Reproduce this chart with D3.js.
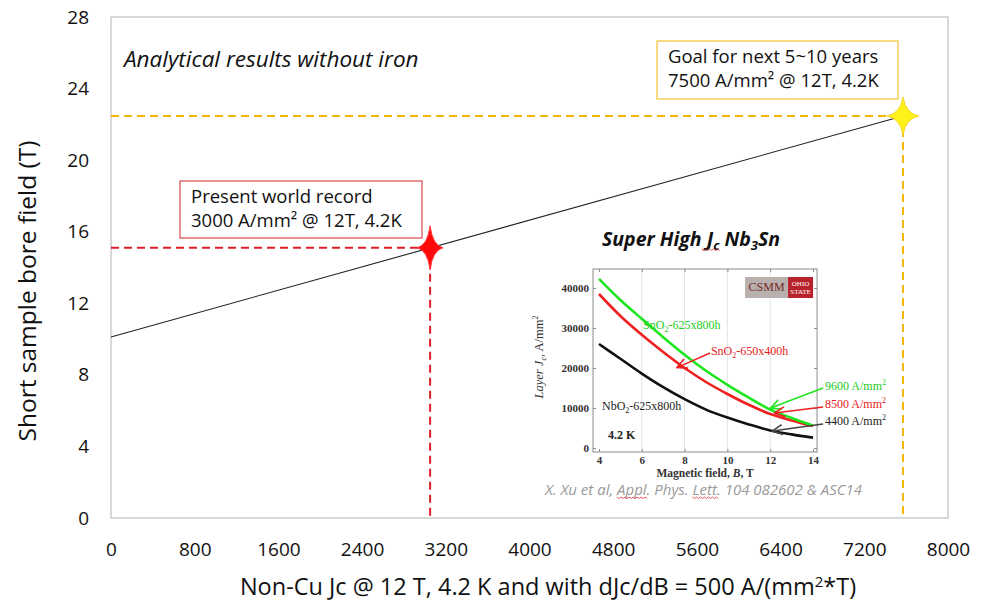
<!DOCTYPE html>
<meta charset="utf-8">
<style>
  body { margin: 0; background: #fff; }
  svg { display: block; font-family: "Open Sans", sans-serif; }
</style>
<body>
<script src="https://d3js.org/d3.v7.min.js"></script>
<div id="chart"></div>
<script>

// ---- main chart data ----
const xTicks = [0, 800, 1600, 2400, 3200, 4000, 4800, 5600, 6400, 7200, 8000];
const yTicks = [0, 4, 8, 12, 16, 20, 24, 28];
// bore field vs non-Cu Jc (straight analytical line)
const lineJc = [0, 7570];
const lineField = [10.12, 22.47];
// the two marked points: present record and goal
const markNames = ["record", "goal"];
const markJc = [3050, 7570];
const markField = [15.1, 22.47];

// ---- inset data (Layer Jc vs B) ----
const insetB = [4, 5, 6, 7, 8, 9, 10, 11, 12, 13, 14];
const jcSnO2_625 = [42300, 37000, 32300, 27700, 23300, 19300, 15800, 12600, 9600, 7500, 5600];
const jcSnO2_650 = [38500, 33000, 28300, 24000, 20000, 16500, 13500, 10800, 8500, 6900, 5500];
const jcNbO2_625 = [26000, 22300, 18600, 15200, 12200, 9600, 7600, 5900, 4400, 3400, 2600];
const insetXTicks = [4, 6, 8, 10, 12, 14];
const insetYTicks = [0, 10000, 20000, 30000, 40000];

const W = 987, H = 603;
const svg = d3.select("#chart").append("svg")
  .attr("width", W).attr("height", H);

const x = d3.scaleLinear().domain([0, 8000]).range([111, 948]);
const y = d3.scaleLinear().domain([0, 28]).range([518, 17]);

// plot frame
svg.append("rect")
  .attr("x", x(0)).attr("y", y(28))
  .attr("width", x(8000) - x(0)).attr("height", y(0) - y(28))
  .attr("fill", "none").attr("stroke", "#bfbfbf").attr("stroke-width", 1.2);

// axes
const xAxis = svg.append("g")
  .attr("transform", `translate(0, ${y(0)})`)
  .call(d3.axisBottom(x).tickValues(xTicks).tickSize(0).tickPadding(25).tickFormat(d3.format("d")));
const yAxis = svg.append("g")
  .attr("transform", `translate(${x(0)}, 0)`)
  .call(d3.axisLeft(y).tickValues(yTicks).tickSize(0).tickPadding(22));
[xAxis, yAxis].forEach(a => {
  a.select(".domain").remove();
  a.selectAll("text").attr("font-family", "Open Sans").attr("font-size", 19).attr("fill", "#111");
});

// axis titles
svg.append("text")
  .attr("transform", "translate(36, 291) rotate(-90)")
  .attr("text-anchor", "middle")
  .attr("font-size", 24.5).attr("fill", "#111")
  .text("Short sample bore field (T)");

const xt = svg.append("text")
  .attr("x", 548).attr("y", 595)
  .attr("text-anchor", "middle")
  .attr("font-size", 23.5).attr("fill", "#111");
xt.append("tspan").text("Non-Cu Jc @ 12 T, 4.2 K and with dJc/dB = 500 A/(mm");
xt.append("tspan").attr("dy", -8).attr("font-size", 15).text("2");
xt.append("tspan").attr("dy", 8).text("*T)");

svg.append("text")
  .attr("x", 124).attr("y", 67)
  .attr("font-size", 22.5).attr("font-style", "italic").attr("fill", "#111")
  .text("Analytical results without iron");

// dashed guide lines
const guideColor = { record: "#dc1f26", goal: "#f2b705" };
markNames.forEach((n, i) => {
  const g = svg.append("g")
    .attr("stroke", guideColor[n]).attr("stroke-width", 2)
    .attr("stroke-dasharray", "8,5").attr("fill", "none");
  g.append("line")
    .attr("x1", x(0)).attr("x2", x(markJc[i]))
    .attr("y1", y(markField[i])).attr("y2", y(markField[i]));
  g.append("line")
    .attr("x1", x(markJc[i])).attr("x2", x(markJc[i]))
    .attr("y1", y(markField[i])).attr("y2", y(0));
});

// analytical line
svg.append("path")
  .datum(d3.zip(lineJc, lineField))
  .attr("d", d3.line().x(d => x(d[0])).y(d => y(d[1])))
  .attr("stroke", "#222").attr("stroke-width", 1.1).attr("fill", "none");

// 4-point stars
function starPath(rx, ry, k) {
  const p = d3.path();
  p.moveTo(0, -ry);
  p.quadraticCurveTo(k, -k, rx, 0);
  p.quadraticCurveTo(k, k, 0, ry);
  p.quadraticCurveTo(-k, k, -rx, 0);
  p.quadraticCurveTo(-k, -k, 0, -ry);
  p.closePath();
  return p.toString();
}
const starStyle = {
  record: { rx: 13, ry: 22, fill: "#ff0a0a", stroke: "#ff3b3b" },
  goal: { rx: 16, ry: 19, fill: "#fff21a", stroke: "#f7d51a" }
};
markNames.forEach((n, i) => {
  const s = starStyle[n];
  svg.append("path")
    .attr("transform", `translate(${x(markJc[i])}, ${y(markField[i])})`)
    .attr("d", starPath(s.rx, s.ry, 2.5))
    .attr("fill", s.fill).attr("stroke", s.stroke).attr("stroke-width", 1);
});

// annotation boxes
function noteBox(bx, by, bw, bh, color, line1, line2) {
  svg.append("rect")
    .attr("x", bx).attr("y", by).attr("width", bw).attr("height", bh)
    .attr("fill", "#fff").attr("stroke", color).attr("stroke-width", 1.2);
  const t = svg.append("text").attr("font-size", 18.5).attr("fill", "#111");
  t.append("tspan").attr("x", bx + 11).attr("y", by + 22).text(line1);
  t.append("tspan").attr("x", bx + 11).attr("y", by + 46).text(line2);
}
noteBox(180, 181, 242, 57, "#d9484c", "Present world record", "3000 A/mm² @ 12T, 4.2K");
noteBox(657, 41, 241, 58, "#f2c230", "Goal for next 5~10 years", "7500 A/mm² @ 12T, 4.2K");

// ---------------- inset ----------------
const ix = d3.scaleLinear().domain([4, 14]).range([599, 813]);
const iy = d3.scaleLinear().domain([0, 40000]).range([448, 288]);
const inset = svg.append("g").attr("font-family", "Liberation Serif, serif");

const fx0 = ix(3.72), fx1 = ix(14.19), fy0 = iy(44750), fy1 = iy(-1000);

// vertical grid
inset.append("g").selectAll("line")
  .data(insetXTicks.slice(1, -1)).join("line")
  .attr("x1", d => ix(d)).attr("x2", d => ix(d))
  .attr("y1", fy0).attr("y2", fy1)
  .attr("stroke", "#e3e3e3").attr("stroke-width", 1);

inset.append("rect")
  .attr("x", fx0).attr("y", fy0).attr("width", fx1 - fx0).attr("height", fy1 - fy0)
  .attr("fill", "none").attr("stroke", "#8c8c8c").attr("stroke-width", 1);

// inset axes
const ixAxis = inset.append("g").attr("transform", `translate(0, ${fy1})`)
  .call(d3.axisBottom(ix).tickValues(insetXTicks).tickSize(-3).tickPadding(4));
const iyAxis = inset.append("g").attr("transform", `translate(${fx0}, 0)`)
  .call(d3.axisLeft(iy).tickValues(insetYTicks).tickSize(-3).tickPadding(4).tickFormat(d3.format("d")));
inset.append("g").attr("transform", `translate(${fx1}, 0)`)
  .call(d3.axisRight(iy).tickValues(insetYTicks).tickSize(-3).tickFormat(""))
  .call(g => g.select(".domain").remove());
inset.append("g").attr("transform", `translate(0, ${fy0})`)
  .call(d3.axisTop(ix).tickValues(insetXTicks).tickSize(-3).tickFormat(""))
  .call(g => g.select(".domain").remove());
[ixAxis, iyAxis].forEach(a => {
  a.select(".domain").remove();
  a.selectAll("text").attr("font-family", "Liberation Serif, serif")
    .attr("font-size", 11).attr("font-weight", "bold").attr("fill", "#333");
});
inset.selectAll(".tick line").attr("stroke", "#8c8c8c");

// inset titles
const ixl = inset.append("text")
  .attr("x", 705).attr("y", 477).attr("text-anchor", "middle")
  .attr("font-size", 11.5).attr("font-weight", "bold").attr("fill", "#333");
ixl.append("tspan").text("Magnetic field, ");
ixl.append("tspan").attr("font-style", "italic").text("B");
ixl.append("tspan").text(", T");

const iyl = inset.append("text")
  .attr("transform", "translate(543, 357) rotate(-90)")
  .attr("text-anchor", "middle").attr("font-size", 12.5).attr("fill", "#333")
  .attr("font-style", "italic");
iyl.append("tspan").text("Layer J");
iyl.append("tspan").attr("dy", 3).attr("font-size", 8).text("c");
iyl.append("tspan").attr("dy", -3).attr("font-style", "normal").text(", A/mm");
iyl.append("tspan").attr("dy", -5).attr("font-size", 8).attr("font-style", "normal").text("2");

// curves
const curves = [
  { vals: jcNbO2_625, color: "#111111" },
  { vals: jcSnO2_650, color: "#ee2020" },
  { vals: jcSnO2_625, color: "#1ee61e" }
];
const curveLine = d3.line().curve(d3.curveMonotoneX).x(d => ix(d[0])).y(d => iy(d[1]));
curves.forEach(c => {
  inset.append("path")
    .datum(d3.zip(insetB, c.vals))
    .attr("d", curveLine)
    .attr("fill", "none").attr("stroke", c.color).attr("stroke-width", 2.6);
});

// arrows
const defs = svg.append("defs");
["#1ee61e", "#ee2020", "#444444"].forEach((col, i) => {
  defs.append("marker")
    .attr("id", "ah" + i).attr("viewBox", "0 -6 12 12")
    .attr("refX", 11).attr("refY", 0)
    .attr("markerWidth", 12).attr("markerHeight", 12)
    .attr("markerUnits", "userSpaceOnUse").attr("orient", "auto")
    .append("path").attr("d", "M1,-5 L11,0 L1,5")
    .attr("fill", "none").attr("stroke", col).attr("stroke-width", 1.6);
});
const arrowFromB = [14.47, 14.47, 14.47, 9.19];
const arrowFromJc = [15000, 10250, 6000, 23750];
const arrowToB = [12.02, 12.2, 12.1, 7.64];
const arrowToJc = [10000, 8750, 4250, 20100];
const arrowColor = ["#1ee61e", "#ee2020", "#444444", "#ee2020"];
const arrowMarker = [0, 1, 2, 1];
arrowFromB.forEach((b, i) => {
  inset.append("line")
    .attr("x1", ix(b)).attr("y1", iy(arrowFromJc[i]))
    .attr("x2", ix(arrowToB[i])).attr("y2", iy(arrowToJc[i]))
    .attr("stroke", arrowColor[i]).attr("stroke-width", 1.4)
    .attr("marker-end", `url(#ah${arrowMarker[i]})`);
});

// curve labels
function chem(b, jc, color, parts, opts = {}) {
  const t = inset.append("text").attr("x", ix(b)).attr("y", iy(jc))
    .attr("font-size", opts.size || 12).attr("fill", color)
    .attr("font-weight", opts.weight || "normal");
  parts.forEach(p => {
    const ts = t.append("tspan").text(p[0]);
    if (p[1]) ts.attr("dy", p[1]).attr("font-size", p[2] || 8);
  });
}
chem(6.06, 29750, "#22cc22", [["SnO"], ["2", 3], ["-625x800h", -3, 12]]);
chem(9.23, 23250, "#e52222", [["SnO"], ["2", 3], ["-650x400h", -3, 12]]);
chem(4.14, 9500, "#222", [["NbO"], ["2", 3], ["-625x800h", -3, 12]]);
chem(14.56, 14500, "#22cc22", [["9600 A/mm"], ["2", -5], ["", 5]]);
chem(14.56, 10000, "#e52222", [["8500 A/mm"], ["2", -5], ["", 5]]);
chem(14.56, 5750, "#222", [["4400 A/mm"], ["2", -5], ["", 5]]);
chem(4.42, 2250, "#222", [["4.2 K"]], { weight: "bold", size: 12 });

// CSMM / Ohio State logo
const logo = inset.append("g").attr("transform", `translate(${fx1 - 72}, ${fy0 + 8})`);
logo.append("rect").attr("width", 43).attr("height", 21).attr("fill", "#b8b0ad");
logo.append("rect").attr("x", 43).attr("width", 25).attr("height", 21).attr("fill", "#b8232b");
logo.append("text").attr("x", 21.5).attr("y", 14).attr("text-anchor", "middle")
  .attr("font-size", 12).attr("fill", "#7a2a2a").text("CSMM");
logo.append("text").attr("x", 55.5).attr("y", 9).attr("text-anchor", "middle")
  .attr("font-size", 7).attr("fill", "#fff").text("OHIO");
logo.append("text").attr("x", 55.5).attr("y", 17).attr("text-anchor", "middle")
  .attr("font-size", 7).attr("fill", "#fff").text("STATE");

// inset title
const title = svg.append("text")
  .attr("x", 602).attr("y", 246)
  .attr("font-size", 19.5).attr("font-weight", "bold").attr("font-style", "italic").attr("fill", "#111");
title.append("tspan").text("Super High J");
title.append("tspan").attr("dy", 4).attr("font-size", 13).text("c");
title.append("tspan").attr("dy", -4).text(" Nb");
title.append("tspan").attr("dy", 4).attr("font-size", 13).text("3");
title.append("tspan").attr("dy", -4).text("Sn");

// citation
const cite = svg.append("text")
  .attr("x", 545).attr("y", 495)
  .attr("font-size", 15).attr("font-style", "italic").attr("fill", "#9a9a9a")
  .text("X. Xu et al, Appl. Phys. Lett. 104 082602 & ASC14");

// spell-check squiggles under a few words
function squiggle(textNode, from, to, dy) {
  const a = textNode.getExtentOfChar(from), b = textNode.getExtentOfChar(to);
  const x0 = a.x, x1 = b.x + b.width, yy = a.y + a.height + dy;
  const p = d3.path();
  p.moveTo(x0, yy);
  for (let xx = x0, k = 0; xx < x1; xx += 2, k++) p.lineTo(xx + 2, yy + (k % 2 ? 0 : 1.5));
  svg.append("path").attr("d", p.toString()).attr("fill", "none")
    .attr("stroke", "#e03030").attr("stroke-width", 0.8);
}
const cn = cite.node();
const citeStr = cn.textContent;
squiggle(cn, citeStr.indexOf("Appl"), citeStr.indexOf("Appl") + 3, -2);
squiggle(cn, citeStr.indexOf("Lett"), citeStr.indexOf("Lett") + 3, -2);
squiggle(title.node(), 10, 12, -3);

</script>
</body>
